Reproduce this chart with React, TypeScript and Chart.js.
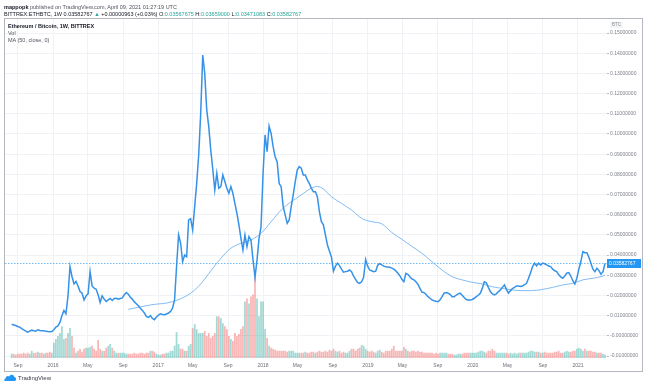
import React, { useEffect, useRef } from "react";
import { Chart, registerables } from "chart.js";

Chart.register(...registerables);

// First weekly bar (Monday) of BITTREX:ETHBTC, 1W
const SERIES_START = "2015-08-10";

// Weekly closes (BTC)
const close2015 = [0.0057, 0.0054, 0.0051, 0.0046, 0.0043, 0.0036, 0.003, 0.0023, 0.0018, 0.0023, 0.0028, 0.0025, 0.0023, 0.003, 0.0026, 0.0025, 0.0025, 0.0023, 0.0021, 0.002, 0.0021];
const close2016 = [0.003, 0.0043, 0.0049, 0.0066, 0.0099, 0.0126, 0.0109, 0.0195, 0.0343, 0.0294,
  0.0257, 0.0269, 0.0247, 0.0219, 0.0211, 0.0178, 0.0198, 0.0208, 0.0318, 0.0247,
  0.0236, 0.0231, 0.0203, 0.0165, 0.0198, 0.0182, 0.017, 0.0178, 0.0185, 0.0175,
  0.0185, 0.0186, 0.0181, 0.0185, 0.0188, 0.0203, 0.0214, 0.0206, 0.0191, 0.0182,
  0.0168, 0.0159, 0.0149, 0.0137, 0.0126, 0.0113, 0.0096, 0.0091, 0.01, 0.0086,
  0.008, 0.0093];
const close2017 = [0.0103, 0.0109, 0.0106, 0.0104, 0.0108, 0.0113, 0.0121, 0.0137, 0.0178, 0.0343,
  0.05, 0.046, 0.0367, 0.04, 0.0392, 0.0574, 0.058, 0.0524, 0.064, 0.0755,
  0.0896, 0.1102, 0.1391, 0.13, 0.1119, 0.1036, 0.092, 0.0825, 0.0722, 0.0805,
  0.0731, 0.0739, 0.0797, 0.0764, 0.0731, 0.0706, 0.0739, 0.0706, 0.0656, 0.0607,
  0.0549, 0.0483, 0.0425, 0.05, 0.0442, 0.0492, 0.0475, 0.0376, 0.029, 0.0376,
  0.0483, 0.0541];
const close2018 = [0.0805, 0.0995, 0.0912, 0.1039, 0.1003, 0.0937, 0.0887, 0.0863, 0.0755, 0.0739,
  0.064, 0.0599, 0.0557, 0.0574, 0.064, 0.0698, 0.0764, 0.0821, 0.0838, 0.083,
  0.0797, 0.0797, 0.0772, 0.0755, 0.0731, 0.0714, 0.0714, 0.0689, 0.0615, 0.0565,
  0.055, 0.05, 0.045, 0.042, 0.039, 0.032, 0.0345, 0.036, 0.0348, 0.033,
  0.0315, 0.0318, 0.032, 0.0326, 0.0318, 0.0295, 0.028, 0.0265, 0.026, 0.0268,
  0.029, 0.0378, 0.0345];
const close2019 = [0.0326, 0.0322, 0.0318, 0.032, 0.035, 0.0358, 0.0352, 0.0345, 0.0342, 0.0341,
  0.034, 0.0335, 0.033, 0.0322, 0.031, 0.0298, 0.028, 0.0268, 0.031, 0.0305,
  0.0293, 0.0282, 0.0277, 0.0268, 0.0255, 0.0235, 0.0217, 0.0214, 0.0206, 0.0194,
  0.0186, 0.0178, 0.0174, 0.0171, 0.0169, 0.0178, 0.0194, 0.0211, 0.0214, 0.0211,
  0.0206, 0.0194, 0.0194, 0.0201, 0.0208, 0.0211, 0.0201, 0.019, 0.018, 0.0178,
  0.0178, 0.018];
const close2020 = [0.0186, 0.0194, 0.0201, 0.0211, 0.0235, 0.0268, 0.0263, 0.024, 0.0219, 0.0208,
  0.0203, 0.0208, 0.0219, 0.0227, 0.024, 0.0252, 0.023, 0.0211, 0.0224, 0.0234,
  0.024, 0.0247, 0.0247, 0.0244, 0.0247, 0.0253, 0.026, 0.0285, 0.0313, 0.0343,
  0.036, 0.0346, 0.036, 0.0351, 0.036, 0.0357, 0.0351, 0.0346, 0.0343, 0.033,
  0.0322, 0.0318, 0.0302, 0.0292, 0.0285, 0.0296, 0.031, 0.0313, 0.0296, 0.0273,
  0.0257, 0.0285];
const close2021 = [0.033, 0.0368, 0.0417, 0.0412, 0.0412, 0.0389, 0.036, 0.033, 0.0318, 0.0335, 0.0323, 0.0305, 0.0318, 0.03582767];

// Weekly volume (relative units)
const vol2015 = [4, 4, 3, 4, 4, 4, 5, 4, 5, 4, 7, 5, 5, 6, 5, 5, 4, 5, 5, 6, 5];
const vol2016 = [15, 19, 22, 25, 32, 19, 20, 25, 30, 22, 10, 5, 7, 9, 6, 9, 10, 10, 11, 12,
  9, 7, 18, 9, 7, 7, 10, 12, 14, 10, 7, 5, 5, 5, 5, 5, 4, 4, 4, 4,
  5, 4, 4, 5, 5, 4, 5, 5, 7, 7, 6, 4];
const vol2017 = [3, 3, 4, 4, 5, 5, 7, 7, 12, 26, 14, 9, 9, 7, 7, 12, 14, 30, 34, 29,
  25, 25, 25, 27, 22, 25, 20, 22, 25, 42, 42, 40, 35, 32, 29, 22, 19, 17, 25, 22,
  24, 29, 32, 57, 60, 55, 62, 64, 86, 60, 42, 57];
const vol2018 = [57, 29, 20, 12, 10, 9, 8, 7, 7, 7, 7, 7, 6, 7, 7, 7, 5, 5, 5, 5,
  5, 6, 5, 5, 6, 6, 5, 6, 7, 6, 6, 7, 6, 8, 7, 9, 7, 6, 7, 5,
  6, 5, 5, 7, 9, 9, 7, 9, 10, 13, 12, 9, 7];
const vol2019 = [6, 7, 6, 5, 7, 8, 6, 5, 7, 7, 7, 9, 12, 7, 7, 7, 7, 11, 9, 7,
  6, 7, 7, 6, 7, 6, 6, 5, 5, 5, 5, 5, 4, 5, 4, 5, 5, 5, 5, 4,
  4, 4, 3, 3, 4, 4, 4, 5, 5, 5, 5, 5];
const vol2020 = [5, 5, 6, 7, 7, 6, 5, 7, 7, 9, 7, 5, 5, 5, 5, 5, 5, 4, 5, 4,
  5, 4, 5, 5, 5, 5, 5, 6, 7, 7, 6, 6, 6, 5, 5, 6, 5, 5, 5, 5,
  6, 6, 7, 5, 5, 6, 7, 6, 6, 7, 7, 9];
const vol2021 = [10, 9, 7, 9, 7, 7, 7, 6, 6, 5, 5, 5, 4, 3];

// MA (50, close, 0): week number and value
const maWeeks = [58, 69, 80, 89, 94, 99, 104, 109, 114, 119, 124, 129, 134, 139, 144, 149, 152, 155, 159, 164,
  169, 174, 179, 184, 189, 194, 199, 204, 209, 214, 219, 224, 229, 234, 239, 244, 249, 254, 259, 264,
  269, 274, 279, 284, 289, 294, 295];
const maValues = [0.0131, 0.0153, 0.0169, 0.0211, 0.0257, 0.0321, 0.0384, 0.0434, 0.0458, 0.0475, 0.0508, 0.0565, 0.0623, 0.0664, 0.0698, 0.0731, 0.074, 0.0727, 0.0689, 0.0656,
  0.0623, 0.0582, 0.0565, 0.0555, 0.0512, 0.0478, 0.0443, 0.0409, 0.0367, 0.0326, 0.0293, 0.0277, 0.0265, 0.0257, 0.0243, 0.0235, 0.0227, 0.0224, 0.0224, 0.023,
  0.024, 0.0252, 0.026, 0.0277, 0.0285, 0.0296, 0.0301];

// Axis ticks
const xTickDates = ["2015-09-01", "2016-01-01", "2016-05-01", "2016-09-01", "2017-01-01", "2017-05-01", "2017-09-01",
  "2018-01-01", "2018-05-01", "2018-09-01", "2019-01-01", "2019-05-01", "2019-09-01", "2020-01-01", "2020-05-01",
  "2020-09-01", "2021-01-01"];
const xTickLabels = ["Sep", "2016", "May", "Sep", "2017", "May", "Sep", "2018", "May", "Sep", "2019", "May", "Sep",
  "2020", "May", "Sep", "2021"];
const yTickValues = [0.15, 0.14, 0.13, 0.12, 0.11, 0.1, 0.09, 0.08, 0.07, 0.06, 0.05, 0.04, 0.03, 0.02, 0.01, 0, -0.01];
const yTickLabels = ["0.15000000", "0.14000000", "0.13000000", "0.12000000", "0.11000000", "0.10000000", "0.09000000",
  "0.08000000", "0.07000000", "0.06000000", "0.05000000", "0.04000000", "0.03000000", "0.02000000", "0.01000000",
  "-0.00000000", "-0.01000000"];

const closes = [...close2015, ...close2016, ...close2017, ...close2018, ...close2019, ...close2020, ...close2021];
const volumes = [...vol2015, ...vol2016, ...vol2017, ...vol2018, ...vol2019, ...vol2020, ...vol2021];

const FONT = '"Liberation Sans", Arial, sans-serif';
const WEEK_MS = 7 * 24 * 3600 * 1000;
const weekIndexOf = (d: string) => (Date.parse(d) - Date.parse(SERIES_START)) / WEEK_MS;

const LINE_BLUE = "#3592e8";

const chromePlugin = {
  id: "tvChrome",
  beforeDraw(chart: any) {
    const { ctx, width, height } = chart;
    ctx.save();
    ctx.fillStyle = "#ffffff";
    ctx.fillRect(0, 0, width, height);
    ctx.strokeStyle = "#b4b7be";
    ctx.lineWidth = 1;
    ctx.strokeRect(4.5, 18.5, 638, 353);
    ctx.restore();
  },
  beforeDatasetsDraw(chart: any) {
    const { ctx, chartArea } = chart;
    const last = closes[closes.length - 1];
    const y = Math.round(chart.scales.y.getPixelForValue(last)) + 0.5;
    ctx.save();
    ctx.strokeStyle = "rgba(33,150,243,0.65)";
    ctx.setLineDash([1.5, 1.5]);
    ctx.lineWidth = 1;
    ctx.beginPath();
    ctx.moveTo(chartArea.left, y);
    ctx.lineTo(chartArea.right, y);
    ctx.stroke();
    ctx.restore();
  },
  afterDraw(chart: any) {
    const { ctx, chartArea } = chart;
    const last = closes[closes.length - 1];
    const y = chart.scales.y.getPixelForValue(last);
    ctx.save();
    ctx.fillStyle = "#2196f3";
    ctx.fillRect(chartArea.right, Math.round(y) - 4, 34, 9);
    ctx.fillStyle = "#ffffff";
    ctx.font = `5px ${FONT}`;
    ctx.textBaseline = "middle";
    ctx.textAlign = "left";
    ctx.fillText(last.toFixed(8), chartArea.right + 2, Math.round(y) + 0.5);
    // currency label on top of the price scale
    ctx.fillStyle = "#f4f5f7";
    ctx.fillRect(chartArea.right + 3, 22, 13, 6);
    ctx.fillStyle = "#8a8d95";
    ctx.font = `4.5px ${FONT}`;
    ctx.textAlign = "center";
    ctx.fillText("BTC", chartArea.right + 9.5, 25);
    ctx.restore();
  },
};

function ChartCanvas() {
  const ref = useRef<HTMLCanvasElement | null>(null);
  useEffect(() => {
    const canvas = ref.current;
    if (!canvas) return;
    const chart = new Chart(canvas, {
      type: "line",
      data: {
        datasets: [
          {
            type: "line",
            label: "Ethereum / Bitcoin",
            data: closes.map((v, i) => ({ x: i, y: v })),
            borderColor: LINE_BLUE,
            borderWidth: 1.5,
            pointRadius: 0,
            tension: 0,
            yAxisID: "y",
            order: 1,
          },
          {
            type: "line",
            label: "MA (50, close, 0)",
            data: maWeeks.map((w, k) => ({ x: w, y: maValues[k] })),
            borderColor: "rgba(80,160,235,0.7)",
            borderWidth: 1,
            pointRadius: 0,
            cubicInterpolationMode: "monotone",
            yAxisID: "y",
            order: 2,
          },
          {
            type: "bar",
            label: "Vol",
            data: volumes.map((v, i) => ({ x: i, y: v })),
            backgroundColor: volumes.map((_, i) =>
              i > 0 && closes[i] < closes[i - 1] ? "rgba(239,83,80,0.42)" : "rgba(38,166,154,0.42)"
            ),
            borderWidth: 0,
            barThickness: 1.1,
            yAxisID: "yv",
            order: 3,
          },
        ] as any,
      },
      options: {
        responsive: false,
        animation: false,
        events: [],
        layout: { padding: { left: 5, top: 19, right: 16, bottom: 16 } },
        plugins: { legend: { display: false }, tooltip: { enabled: false } },
        scales: {
          x: {
            type: "linear",
            position: "bottom",
            offset: false,
            min: -3.3,
            max: 296,
            afterBuildTicks: (s: any) => {
              s.ticks = xTickDates.map((d) => ({ value: weekIndexOf(d) }));
            },
            afterFit: (s: any) => {
              s.height = 13;
            },
            ticks: {
              autoSkip: false,
              maxRotation: 0,
              padding: 5,
              color: "#6b6e78",
              font: { family: FONT, size: 5 },
              callback: (_v: any, i: number) => xTickLabels[i],
            },
            grid: { color: "#f0f2f6", drawTicks: false, offset: false },
            border: { display: false },
          },
          y: {
            type: "linear",
            position: "right",
            min: -0.01099,
            max: 0.15694,
            afterBuildTicks: (s: any) => {
              s.ticks = yTickValues.map((v) => ({ value: v }));
            },
            afterFit: (s: any) => {
              s.width = 35;
            },
            ticks: {
              padding: 1,
              color: "#7d808a",
              font: { family: FONT, size: 5 },
              callback: (_v: any, i: number) => yTickLabels[i],
            },
            grid: { color: "#f0f2f6", tickLength: 2, tickColor: "#b8bbc2" },
            border: { display: false },
          },
          yv: {
            type: "linear",
            display: false,
            min: 0,
            max: Math.max(...volumes) * 4,
          },
        },
      } as any,
      plugins: [chromePlugin],
    });
    return () => chart.destroy();
  }, []);
  return <canvas ref={ref} width={658} height={387} style={{ position: "absolute", left: 0, top: 0, width: 658, height: 387 }} />;
}

const txt: React.CSSProperties = {
  position: "absolute",
  whiteSpace: "nowrap",
  fontFamily: FONT,
  fontSize: "5.5px",
  lineHeight: "6px",
  color: "#50535e",
};
const green = "#26a69a";

export default function App() {
  return (
    <div style={{ position: "fixed", left: 0, top: 0, width: 658, height: 387, background: "#fff", overflow: "hidden" }}>
      <ChartCanvas />
      <div style={{ ...txt, left: 4, top: 3.5 }}>
        <b style={{ color: "#131722" }}>mappopk</b> published on TradingView.com, April 09, 2021 01:27:19 UTC
      </div>
      <div style={{ ...txt, left: 4, top: 11, color: "#131722" }}>
        BITTREX:ETHBTC, 1W 0.03582767 <span style={{ color: green }}>▲</span> +0.00000963 (+0.03%) O:
        <span style={{ color: green }}>0.03567675</span> H:<span style={{ color: green }}>0.03659000</span> L:
        <span style={{ color: green }}>0.03471083</span> C:<span style={{ color: green }}>0.03582767</span>
      </div>
      <div style={{ ...txt, left: 8, top: 23, color: "#131722", fontWeight: 700 }}>Ethereum / Bitcoin, 1W, BITTREX</div>
      <div style={{ ...txt, left: 8, top: 30 }}>Vol</div>
      <div style={{ ...txt, left: 8, top: 37 }}>MA (50, close, 0)</div>
      <svg style={{ position: "absolute", left: 4, top: 373 }} width={13} height={9} viewBox="0 0 13 9">
        <path d="M1 8 C0 8 0 5.5 1.8 5.3 C1.8 3 4.2 2.4 5.2 3.6 C6 1 9.8 1 10.3 4 C12.6 4.2 12.6 8 10.6 8 Z" fill="#2196f3" />
      </svg>
      <div style={{ ...txt, left: 18, top: 375, fontSize: "6px", color: "#363a45" }}>TradingView</div>
    </div>
  );
}
